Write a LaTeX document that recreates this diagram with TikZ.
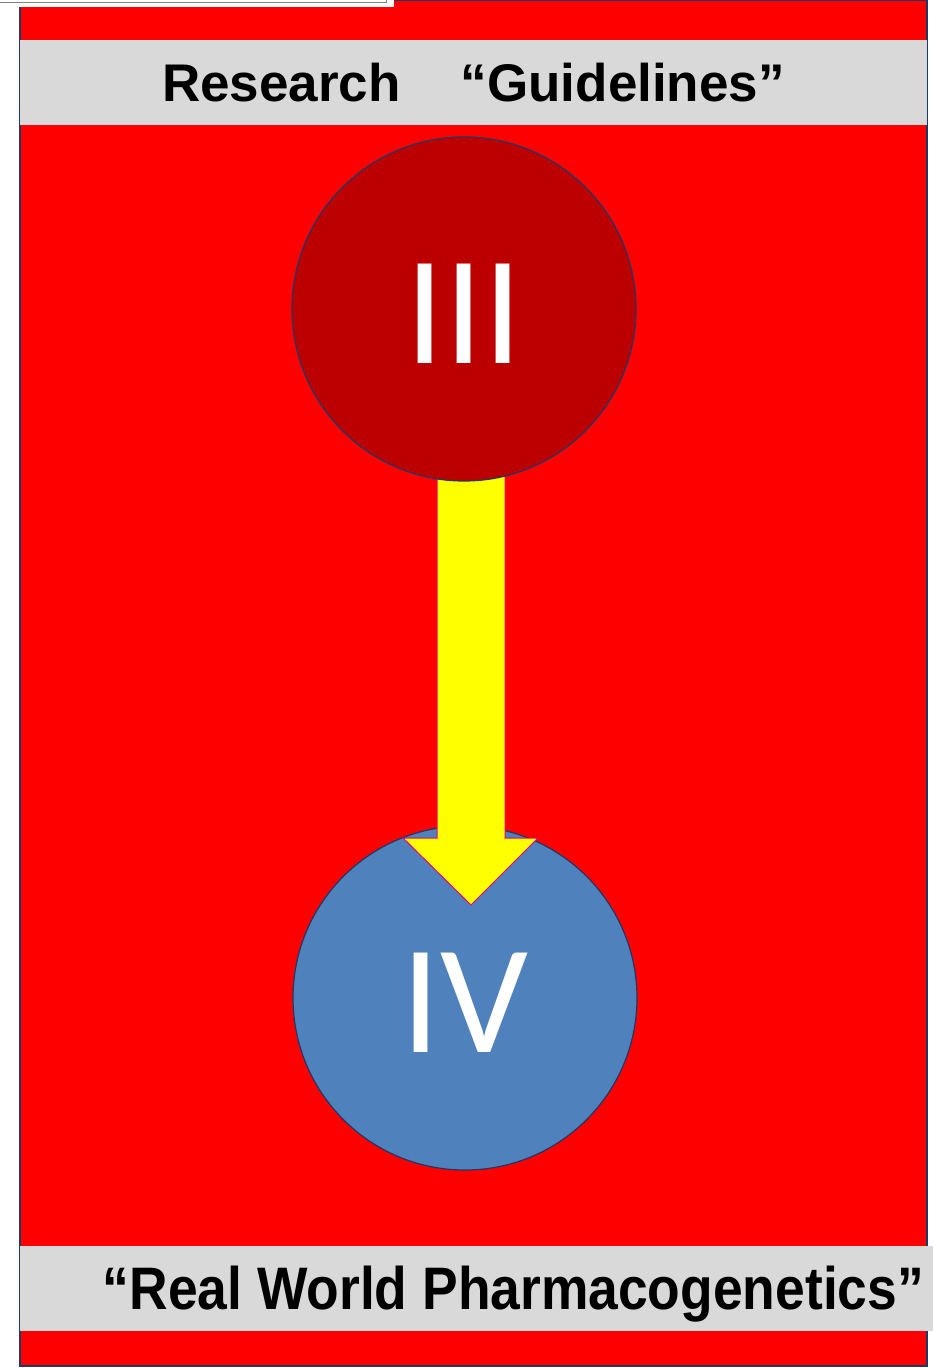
\documentclass[tikz,border=0pt]{standalone}
\usepackage{fontspec}
\setmainfont{Liberation Sans}
\newfontfamily\romfont{Carlito}
\usetikzlibrary{positioning,calc}
\definecolor{bgred}{RGB}{255,0,0}
\definecolor{bandgray}{RGB}{217,217,217}
\definecolor{navy}{RGB}{31,56,100}
\definecolor{darkred}{RGB}{188,0,0}
\definecolor{steel}{RGB}{79,129,189}
\definecolor{pinkline}{RGB}{230,0,126}
\definecolor{arrowyellow}{RGB}{255,255,0}
\tikzstyle{band} = [rectangle, fill=bandgray, inner sep=0, minimum height=85]
\tikzstyle{title} = [inner sep=0, font=\bfseries\fontsize{53}{53}\selectfont]
\tikzstyle{phase} = [circle, draw=navy, line width=1.2pt, minimum size=344, inner sep=0]
\tikzstyle{numeral} = [inner sep=0, text=white, yshift=-5pt, font=\romfont\fontsize{155}{155}\selectfont]
\tikzstyle{bigarrow} = [fill=arrowyellow, draw=pinkline, line width=1pt, line join=miter]

\begin{document}
\begin{tikzpicture}[x=1pt, y=-1pt]
\useasboundingbox (0,0) rectangle (933,1368);
\draw[fill=bgred, draw=navy, line width=1.5pt] (20,0) rectangle (927,1366);
% leftover frame at the top
\fill[white] (0,0) rectangle (394,7);
\draw[gray, fill=white] (-2,-2) rectangle (386,2.5);
% the two bands
\node[band, minimum width=907] (top) at (473.5,82.5) {};
\node[title] (research) at (top.center) {Research\hspace{60pt}“Guidelines”};
\node[band, minimum width=913] (bottom) at (476.5,1288.5) {};
\node[title, font=\bfseries\fontsize{60}{60}\selectfont, anchor=east] (rwp) at ($(bottom.east)+(-9,6)$)
    {\scalebox{0.89}[1]{“Real World Pharmacogenetics”}};
% phases
\coordinate (c3) at (464,309);
\node[phase, fill=steel, label={[numeral]center:IV}] (iv) at (465,998) {};
\coordinate (tip) at ($(iv.center)+(6,-93)$);
\draw[bigarrow] ($(c3)+(-27,100)$) -- ($(tip)+(-34,-67)$) -- ($(tip)+(-68,-67)$) -- (tip)
    -- ($(tip)+(67,-67)$) -- ($(tip)+(34,-67)$) -- ($(c3)+(41,100)$) -- cycle;
\node[phase, fill=darkred, label={[numeral]center:III}] (iii) at (c3) {};
\end{tikzpicture}
\end{document}
